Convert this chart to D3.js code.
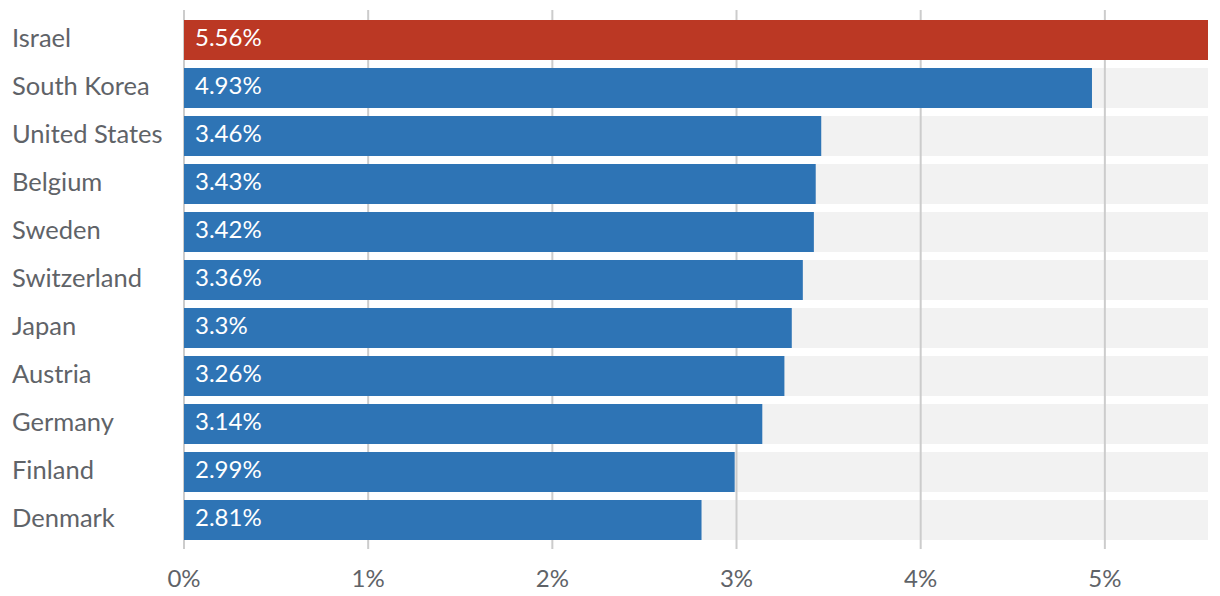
<!DOCTYPE html>
<html><head><meta charset="utf-8">
<script src="https://cdn.jsdelivr.net/npm/d3@7"></script>
<style>body{margin:0;background:#fff}svg{display:block}text{font-family:Lato,"Open Sans",sans-serif}</style>
</head><body><svg id="c" width="1220" height="596"></svg>
<script>
const countries = ["Israel","South Korea","United States","Belgium","Sweden","Switzerland","Japan","Austria","Germany","Finland","Denmark"];
const values = [5.56,4.93,3.46,3.43,3.42,3.36,3.3,3.26,3.14,2.99,2.81];
const valueLabels = ["5.56%","4.93%","3.46%","3.43%","3.42%","3.36%","3.3%","3.26%","3.14%","2.99%","2.81%"];
const ticks = [0,1,2,3,4,5];
const tickLabels = ["0%","1%","2%","3%","4%","5%"];
const highlight = "Israel";

const svg = d3.select("#c");
const x = d3.scaleLinear().domain([0,5.56]).range([184,1208]);
const y = d3.scaleBand().domain(countries).range([16,544]).paddingInner(8/48).paddingOuter(4/48);

svg.append("g").selectAll("rect").data(countries).join("rect")
  .attr("x",x(0)).attr("y",d=>y(d)).attr("width",x(5.56)-x(0)).attr("height",y.bandwidth())
  .attr("fill","#f2f2f2");

svg.append("g").selectAll("line").data(ticks).join("line")
  .attr("x1",d=>x(d)).attr("x2",d=>x(d)).attr("y1",10).attr("y2",549)
  .attr("stroke","#cccccc").attr("stroke-width",2);

svg.append("g").selectAll("rect").data(countries).join("rect")
  .attr("x",x(0)).attr("y",d=>y(d)).attr("width",(d,i)=>x(values[i])-x(0)).attr("height",y.bandwidth())
  .attr("fill",d=>d===highlight?"#bb3824":"#2e74b5");

svg.append("g").selectAll("text").data(countries).join("text")
  .attr("x",x(0)+11).attr("y",d=>y(d)+26)
  .attr("fill","#fff").attr("font-size",24).text((d,i)=>valueLabels[i]);

svg.append("g").selectAll("text").data(countries).join("text")
  .attr("x",12).attr("y",d=>y(d)+27)
  .attr("fill","#5f6368").attr("font-size",25.5).text(d=>d);

svg.append("g").selectAll("text").data(ticks).join("text")
  .attr("x",d=>x(d)).attr("y",587).attr("text-anchor","middle")
  .attr("fill","#5f6368").attr("font-size",24).text((d,i)=>tickLabels[i]);
</script></body></html>
